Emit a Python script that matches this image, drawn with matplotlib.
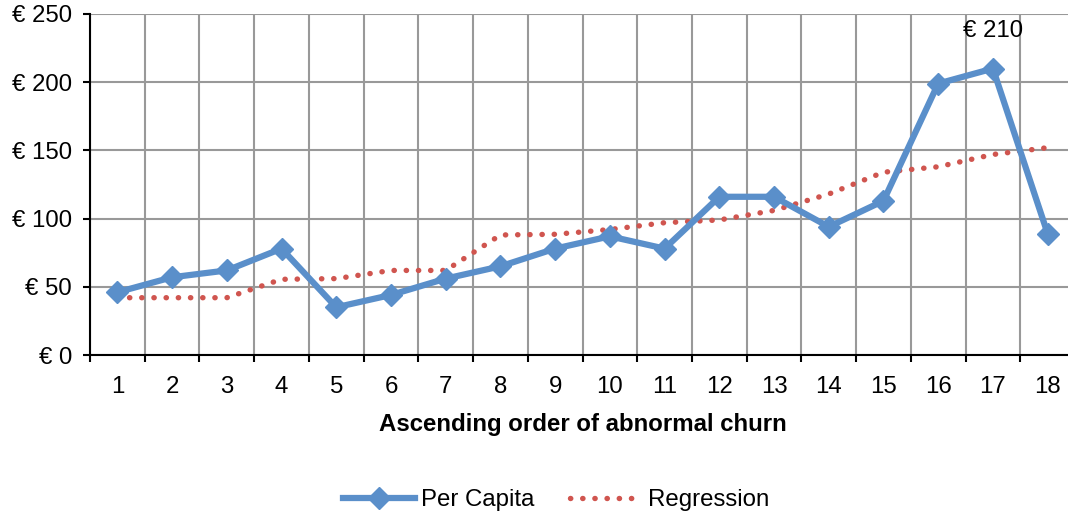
import numpy as np
import matplotlib
matplotlib.use("Agg")
import matplotlib.pyplot as plt
from matplotlib.ticker import FixedLocator

plt.rcParams['font.family'] = ['Liberation Sans', 'DejaVu Sans']

## chart data
order = list(range(1, 19))
per_capita = [46, 57, 62, 78, 35, 44, 56, 65, 78, 87, 78, 116, 116, 94, 113, 199, 210, 89]
regression = [42, 42, 42, 55.5, 56, 62, 62, 88, 88.5, 92, 97, 99, 106, 118, 134, 138, 147, 152]
y_ticks = [0, 50, 100, 150, 200, 250]

blue = '#5A8FCA'
red = '#D0554F'
fs = 17.3

fig = plt.figure(figsize=(10.68, 5.16), dpi=100)
ax = fig.add_axes([90/1068, 1-355/516, 985/1068, 341/516])

ax.plot(order, regression, color=red, lw=3.9, linestyle=(0, (0.05, 2.2)),
        dash_capstyle='round', label='Regression', zorder=3)
ax.plot(order, per_capita, color=blue, lw=4.5, marker='D', markersize=11,
        label='Per Capita', zorder=4)

# label on the peak value
peak = int(np.argmax(per_capita))
ax.annotate("€ %d" % per_capita[peak], (order[peak], per_capita[peak]),
            xytext=(0, 27), textcoords='offset points', ha='center', va='center',
            fontsize=fs)

## axes
ax.set_xlim(0.5, 18.5)
ax.set_ylim(0, 250)
ax.set_xticks(order)
ax.set_xticklabels([str(i) for i in order])
ax.xaxis.set_minor_locator(FixedLocator(np.arange(0.5, 19, 1)))
ax.set_yticks(y_ticks)
ax.set_yticklabels(["€ %d" % v for v in y_ticks])

ax.tick_params(axis='x', which='major', length=0, pad=15, labelsize=fs)
ax.tick_params(axis='x', which='minor', length=5, width=1.5, direction='out')
ax.tick_params(axis='y', length=5, width=1.5, direction='out', pad=8, labelsize=fs)

ax.grid(axis='y', which='major', color='#999999', lw=1.5)
ax.grid(axis='x', which='minor', color='#999999', lw=1.5)
ax.set_axisbelow(True)

for s in ['top', 'right']:
    ax.spines[s].set_visible(False)
for s in ['left', 'bottom']:
    ax.spines[s].set_linewidth(1.5)
    ax.spines[s].set_zorder(5)

ax.set_xlabel('Ascending order of abnormal churn', fontsize=fs, fontweight='bold', labelpad=11)

handles, labels = ax.get_legend_handles_labels()
fig.legend(handles[::-1], labels[::-1], loc='center', bbox_to_anchor=(556/1068, 1-500/516),
           ncol=2, frameon=False, fontsize=fs, handlelength=3, handletextpad=0.25,
           columnspacing=1.5)

plt.savefig('out.png', dpi=100)
plt.close()
